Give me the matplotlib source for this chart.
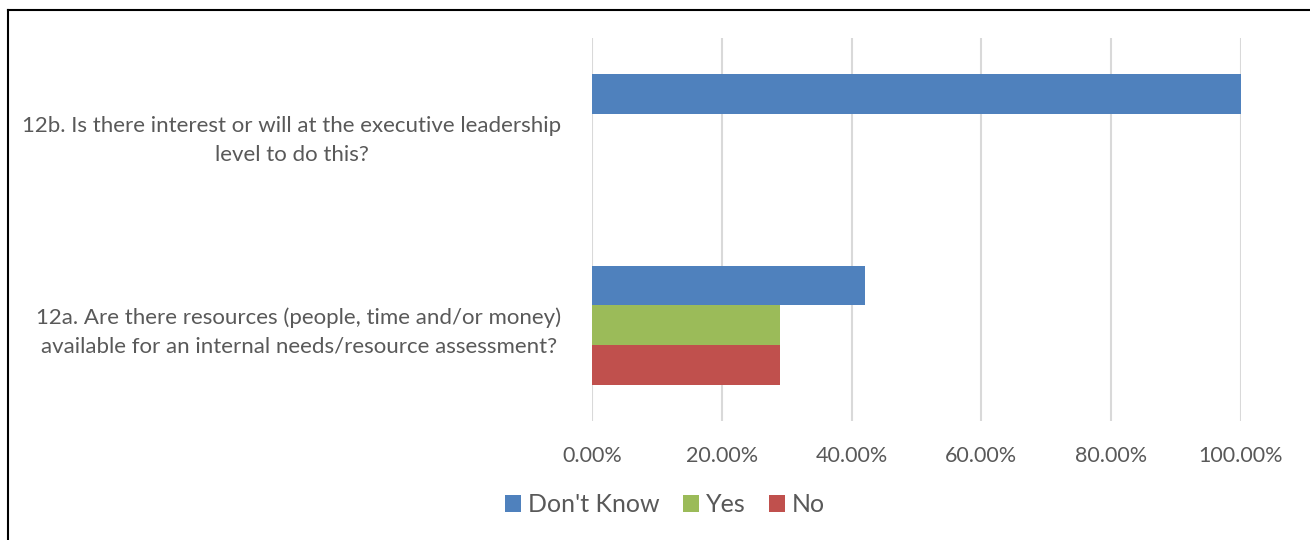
import matplotlib
matplotlib.use('Agg')
import matplotlib.pyplot as plt
from matplotlib.lines import Line2D
from matplotlib.ticker import PercentFormatter
import numpy as np

plt.rcParams['font.family'] = ['Lato', 'DejaVu Sans']

# survey questions, bottom to top
questions = [
    '12a. Are there resources (people, time and/or money)\navailable for an internal needs/resource assessment?',
    '12b. Is there interest or will at the executive leadership\nlevel to do this?',
]
series = ["Don't Know", 'Yes', 'No']
dont_know = [0.42, 1.00]
yes = [0.29, 0.0]
no = [0.29, 0.0]
x_ticks = [0, 0.2, 0.4, 0.6, 0.8, 1.0]

colors = ['#4F81BD', '#9BBB59', '#C0504D']
text_gray = '#595959'

fig = plt.figure(figsize=(13.1, 5.4), dpi=100)
ax = fig.add_axes([592 / 1310, 1 - 421 / 540, (1241 - 592) / 1310, (421 - 38) / 540])

y = np.arange(len(questions))
h = 0.207
for vals, off, col, name in zip([dont_know, yes, no], [h, 0, -h], colors, series):
    ax.barh(y + off, vals, height=h, color=col, label=name, zorder=3)

ax.set_xlim(0, 1.0)
ax.set_ylim(-0.5, 1.5)
ax.set_xticks(x_ticks)
ax.xaxis.set_major_formatter(PercentFormatter(1.0, decimals=2))
ax.set_yticks(y)
ax.set_yticklabels(questions, multialignment='center', linespacing=1.55)
ax.tick_params(axis='x', length=0, pad=18, labelsize=15.5, labelcolor=text_gray)
ax.tick_params(axis='y', length=0, pad=22, labelsize=16, labelcolor=text_gray)
ax.grid(axis='x', color='#D9D9D9', linewidth=1.5, zorder=0)
for s in ax.spines.values():
    s.set_visible(False)

leg = fig.legend(loc='center', bbox_to_anchor=(665 / 1310, 1 - 505 / 540), ncol=3,
                 frameon=False, fontsize=18, handlelength=0.64, handleheight=0.64,
                 handletextpad=0.26, columnspacing=0.95)
for t in leg.get_texts():
    t.set_color(text_gray)

# outer chart border (top and left edges)
fig.add_artist(Line2D([8 / 1310, 8 / 1310], [0, 1 - 10 / 540], color='black', lw=1.5))
fig.add_artist(Line2D([8 / 1310, 1], [1 - 10 / 540, 1 - 10 / 540], color='black', lw=1.5))

fig.savefig('out.png', dpi=100)
